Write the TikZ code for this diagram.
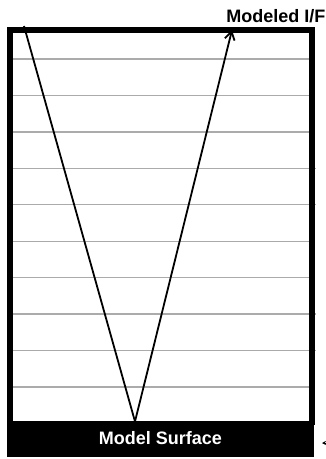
\documentclass[tikz,border=0pt]{standalone}
\usepackage{fontspec}
\setmainfont{Liberation Sans}
\usetikzlibrary{arrows.meta}
\tikzset{
  gridline/.style={draw=black!33, line width=1.4pt},
  frameline/.style={draw=black, line width=6pt},
  ray/.style={draw=black, line width=1.8pt},
  lbl/.style={font=\fontsize{18}{20}\selectfont\bfseries, inner sep=0pt},
}
\begin{document}
\begin{tikzpicture}[x=1pt,y=-1pt]
\useasboundingbox (0,0) rectangle (326,459);
% grid lines
\foreach \i in {0,...,9}{
  \pgfmathsetmacro{\yy}{59+36.44*\i}
  \coordinate (gl\i) at (13,\yy);
  \coordinate (gr\i) at (309,\yy);
  \draw[gridline] (gl\i) -- (gr\i);
}
\foreach \i in {3,4,7,8}{
  \pgfmathsetmacro{\yy}{59+36.44*\i}
  \coordinate (tl\i) at (309,\yy);
  \coordinate (tr\i) at (316,\yy);
  \draw[gridline] (tl\i) -- (tr\i);
}
% frame
\coordinate (fbl) at (10,425);
\coordinate (ftl) at (10,30);
\coordinate (ftr) at (311.5,30);
\coordinate (fbr) at (311.5,425);
\draw[frameline, line join=miter] (fbl) -- (ftl) -- (ftr) -- (fbr);
% surface band
\node[fill=black, minimum width=307pt, minimum height=36pt, inner sep=0pt, anchor=north west] (surf) at (7,421) {};
\node[lbl, text=white] (surflbl) at (160.5,438.5) {Model Surface};
% rays
\coordinate (start) at (24,26);
\coordinate (vertex) at (135,421.5);
\coordinate (tip) at (232,30);
\draw[ray] (start) -- (vertex);
\draw[ray, -{Straight Barb[length=8pt,width=10pt,line width=1.8pt]}] (vertex) -- (tip);
% label
\node[lbl, anchor=base east] (mif) at (325.5,22.5) {Modeled I/F};
% small arrow at right edge
\coordinate (sa) at (330,443);
\coordinate (sb) at (322,443);
\draw[line width=1pt, -{Stealth[length=4pt,width=4pt]}] (sa) -- (sb);
\end{tikzpicture}
\end{document}
